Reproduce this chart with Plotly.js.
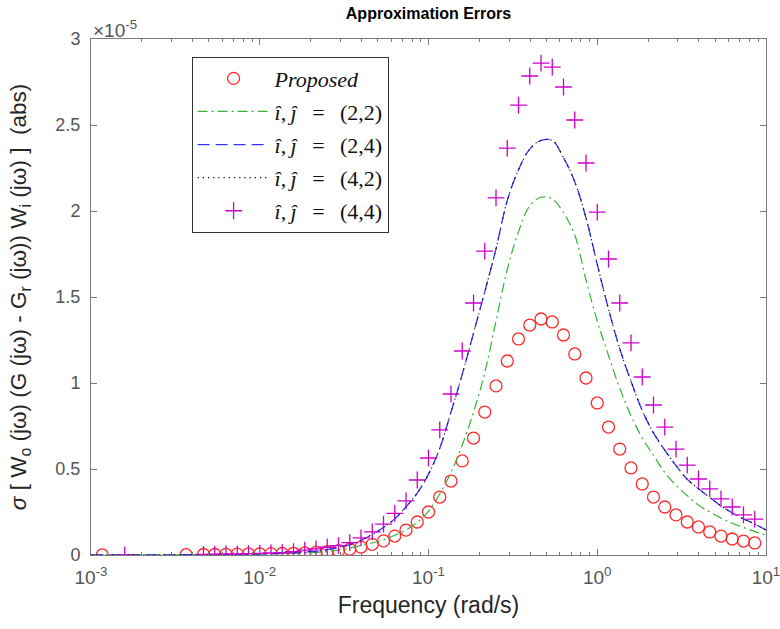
<!DOCTYPE html>
<html>
<head>
<meta charset="utf-8">
<script src="https://cdn.plot.ly/plotly-3.0.1.min.js"></script>
<style>html,body{margin:0;padding:0;background:#fff;}#chart{width:780px;height:629px;}</style>
</head>
<body>
<div id="chart"></div>
<script>
// Values are in units of 1e-5 (as shown by the axis exponent label)
const gridFreq = [0.004642, 0.005412, 0.00631, 0.007356, 0.008577,
  0.01, 0.01166, 0.01359, 0.01585, 0.01848, 0.02154, 0.02512, 0.02929, 0.03415, 0.03981, 0.04642, 0.05412, 0.0631, 0.07356, 0.08577,
  0.1, 0.1166, 0.1359, 0.1585, 0.1848, 0.2154, 0.2512, 0.2929, 0.3415, 0.3981, 0.4642, 0.5412, 0.631, 0.7356, 0.8577,
  1, 1.166, 1.359, 1.585, 1.848, 2.154, 2.512, 2.929, 3.415, 3.981, 4.642, 5.412, 6.31, 7.356, 8.577];

const proposedFreq = [0.001166, 0.00366].concat(gridFreq);
const proposedVal = [0.0003, 0.002,
  0.003, 0.003, 0.004, 0.005, 0.006,
  0.007, 0.008, 0.009, 0.010, 0.012, 0.015, 0.019, 0.025, 0.034, 0.046, 0.062, 0.082, 0.110, 0.145, 0.192,
  0.250, 0.337, 0.430, 0.547, 0.680, 0.831, 0.983, 1.128, 1.256, 1.337, 1.372, 1.355, 1.279, 1.169, 1.029,
  0.884, 0.744, 0.616, 0.506, 0.413, 0.337, 0.279, 0.233, 0.192, 0.163, 0.134, 0.110, 0.093, 0.081, 0.070];

const plus44Freq = [0.001585].concat(gridFreq);
const plus44Val = [0.001,
  0.004, 0.005, 0.006, 0.007, 0.008,
  0.010, 0.012, 0.014, 0.019, 0.028, 0.036, 0.045, 0.054, 0.072, 0.100, 0.135, 0.180, 0.242, 0.315, 0.436,
  0.564, 0.727, 0.936, 1.186, 1.465, 1.767, 2.076, 2.366, 2.616, 2.785, 2.860, 2.837, 2.721, 2.529, 2.279,
  1.994, 1.721, 1.465, 1.233, 1.035, 0.872, 0.744, 0.616, 0.523, 0.442, 0.384, 0.326, 0.279, 0.233, 0.209];

const lineFreq = [0.001, 0.002154, 0.004642, 0.00631, 0.008577, 0.01166, 0.01585,
  0.01848, 0.02154, 0.02512, 0.02929, 0.03415, 0.03981, 0.04642, 0.05412, 0.0631, 0.07356, 0.08577,
  0.1, 0.1166, 0.1359, 0.1585, 0.1848, 0.2154, 0.2512, 0.2929, 0.3415, 0.3981, 0.4642, 0.5412, 0.631, 0.7356, 0.8577,
  1, 1.166, 1.359, 1.585, 1.848, 2.154, 2.512, 2.929, 3.415, 3.981, 4.642, 5.412, 6.31, 7.356, 8.577, 10];

const line22Val = [0.0002, 0.0006, 0.0015, 0.0022, 0.0035, 0.006, 0.010,
  0.012, 0.015, 0.020, 0.028, 0.040, 0.055, 0.070, 0.088, 0.115, 0.145, 0.190,
  0.255, 0.355, 0.48, 0.64, 0.83, 1.06, 1.36, 1.66, 1.88, 2.03, 2.08, 2.07, 1.99, 1.86, 1.60,
  1.36, 1.16, 0.97, 0.81, 0.68, 0.58, 0.48, 0.405, 0.345, 0.29, 0.25, 0.215, 0.185, 0.16, 0.137, 0.116];

const line24Val = [0.0003, 0.0008, 0.002, 0.003, 0.005, 0.008, 0.013,
  0.017, 0.022, 0.031, 0.044, 0.060, 0.085, 0.12, 0.16, 0.21, 0.28, 0.36,
  0.47, 0.62, 0.83, 1.05, 1.29, 1.53, 1.78, 2.06, 2.24, 2.36, 2.41, 2.41, 2.31, 2.17, 1.96,
  1.69, 1.43, 1.20, 1.01, 0.84, 0.71, 0.61, 0.52, 0.44, 0.385, 0.335, 0.285, 0.245, 0.21, 0.18, 0.145];

const line42Val = line24Val.slice();

const seriesNames = [
  '<i>Proposed</i>',
  '<i>î</i>,\u2009<i>ĵ</i>\u2002\u2009=\u2002\u2009(2,2)',
  '<i>î</i>,\u2009<i>ĵ</i>\u2002\u2009=\u2002\u2009(2,4)',
  '<i>î</i>,\u2009<i>ĵ</i>\u2002\u2009=\u2002\u2009(4,2)',
  '<i>î</i>,\u2009<i>ĵ</i>\u2002\u2009=\u2002\u2009(4,4)'];

const xTickVals = [0.001, 0.01, 0.1, 1, 10];
const xTickText = ['10<sup>-3</sup>', '10<sup>-2</sup>', '10<sup>-1</sup>', '10<sup>0</sup>', '10<sup>1</sup>'];
const yTickVals = [0, 0.5, 1, 1.5, 2, 2.5, 3];
const yTickText = ['0', '0.5', '1', '1.5', '2', '2.5', '3'];

const minorVals = [];
for (let d = 0; d < xTickVals.length - 1; d++) {
  for (let m = 2; m <= 9; m++) minorVals.push(xTickVals[d] * m);
}

const traces = [
  {x: proposedFreq, y: proposedVal, name: seriesNames[0], type: 'scatter', mode: 'markers',
   marker: {symbol: 'circle-open', size: 12, color: '#ff2a2a', line: {width: 1.3, color: '#ff2a2a'}}, legendgroup: 'a'},
  {x: lineFreq, y: line22Val, name: seriesNames[1], type: 'scatter', mode: 'lines',
   line: {color: '#33b233', width: 1.2, dash: '10px,4px,2px,4px', shape: 'spline'}, legendgroup: 'b'},
  {x: lineFreq, y: line24Val, name: seriesNames[2], type: 'scatter', mode: 'lines',
   line: {color: '#3333ff', width: 1.3, dash: '12px,6px', shape: 'spline'}, legendgroup: 'c'},
  {x: lineFreq, y: line42Val, name: seriesNames[3], type: 'scatter', mode: 'lines',
   line: {color: '#000000', width: 1.1, dash: '1.2px,4px', shape: 'spline'}, legendgroup: 'd'},
  {x: plus44Freq, y: plus44Val, name: seriesNames[4], type: 'scatter', mode: 'markers',
   marker: {symbol: 'cross-thin-open', size: 12, color: '#cc00cc', line: {width: 1.3, color: '#cc00cc'}}, legendgroup: 'e'}
];

const axisColor = '#7a7a7a';
const layout = {
  width: 780, height: 629,
  margin: {l: 91, r: 14, t: 39, b: 74, pad: 0},
  paper_bgcolor: '#ffffff', plot_bgcolor: '#ffffff',
  font: {family: 'Liberation Sans, Arial, sans-serif', color: '#262626'},
  title: {text: '<b>Approximation Errors</b>', x: 0.5, xref: 'paper', xanchor: 'center',
          y: 0.979, yref: 'container', yanchor: 'middle', font: {size: 16, color: '#000'}},
  showlegend: true,
  legend: {x: 0.149, y: 0.966, xanchor: 'left', yanchor: 'top', bgcolor: '#ffffff',
           bordercolor: '#333333', borderwidth: 1, itemwidth: 72, tracegroupgap: 1.5,
           font: {family: 'Liberation Serif, Times New Roman, serif', size: 22, color: '#111'}},
  xaxis: {type: 'log', range: [-3, 1], showgrid: false, zeroline: false,
          showline: true, linecolor: axisColor, linewidth: 1, mirror: 'ticks',
          ticks: 'inside', ticklen: 6, tickcolor: axisColor, ticklabeloverflow: 'allow',
          tickmode: 'array', tickvals: xTickVals, ticktext: xTickText,
          tickfont: {size: 19, color: '#555555'}, ticklabelstandoff: 5,
          minor: {tickmode: 'array', tickvals: minorVals, ticks: 'inside', ticklen: 3, tickcolor: axisColor, showgrid: false},
          title: {text: 'Frequency (rad/s)', font: {size: 23, color: '#262626'}, standoff: 10}},
  yaxis: {range: [0, 3], showgrid: false, zeroline: false,
          showline: true, linecolor: axisColor, linewidth: 1, mirror: 'ticks',
          ticks: 'inside', ticklen: 6, tickcolor: axisColor, ticklabeloverflow: 'allow',
          tickmode: 'array', tickvals: yTickVals, ticktext: yTickText,
          tickfont: {size: 18, color: '#555555'}, ticklabelstandoff: 6,
          title: {text: '<i>σ</i> [ W<sub>o</sub> (jω) (G (jω) - G<sub>r</sub> (jω)) W<sub>i</sub> (jω) ]  (abs)',
                  font: {size: 22.5, color: '#262626'}, standoff: 22}},
  annotations: [
    {text: '×10<sup>-5</sup>', xref: 'paper', yref: 'paper', x: 0, y: 0.993, xanchor: 'left', yanchor: 'bottom',
     showarrow: false, font: {size: 19, color: '#555555'}}
  ]
};

Plotly.newPlot('chart', traces, layout, {displayModeBar: false, staticPlot: true});
</script>
</body>
</html>
